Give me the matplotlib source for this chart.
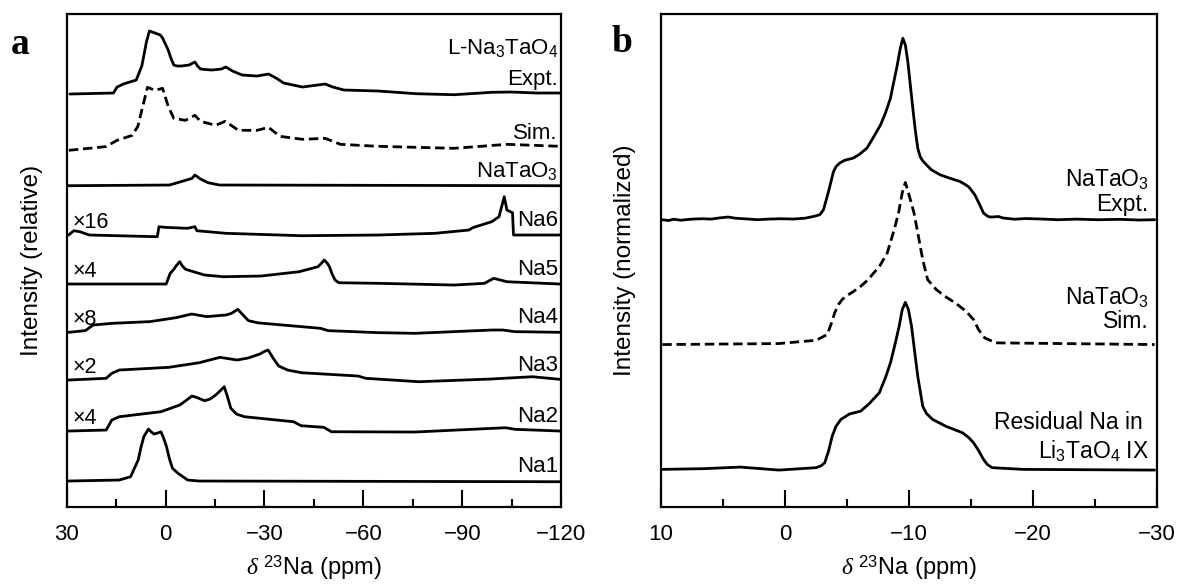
import matplotlib.pyplot as plt
from matplotlib.ticker import MultipleLocator

plt.rcParams['font.family'] = ['Liberation Sans', 'DejaVu Sans']
plt.rcParams['mathtext.fontset'] = 'custom'
plt.rcParams['mathtext.rm'] = 'Liberation Sans'
plt.rcParams['mathtext.it'] = 'Liberation Serif:italic'
plt.rcParams['font.size'] = 16

# ---- panel a: simulated Na sites of L-Na3TaO4 (ppm, intensity) ----
expt_ppm = [29, 15.8, 14.7, 12.8, 8.9, 7.2, 6.5, 5.8, 4.9, 3.2, 1.6, 0.9, -0.8, -1.6, -2.5,
            -3.5, -4.8, -7.1, -8.9, -9.7, -10.6, -12.0, -14.1, -16.9, -18.3, -20.3, -23.2,
            -27.8, -31.2, -33.5, -35.8, -41.5, -46.1, -48.4, -50.7, -54.1, -64.5, -76,
            -87.5, -98.9, -104.7, -112.7, -119.6]
expt_int = [0, 1, 7, 10, 14, 28, 40, 52, 63, 61, 59, 56, 44, 36, 29,
            28, 28, 29, 32, 28, 25, 24.5, 24, 25, 27, 23, 19,
            18, 20, 16, 11, 7, 9, 10, 7, 4, 3, 0.3,
            -0.7, 1.7, 2, 1, 1]

sim_ppm = [29.3, 18.1, 14.7, 10.1, 8.4, 5.5, 3.2, 0.9, -0.8, -2.5, -6.0, -8.9, -10.6,
           -15.2, -18.1, -22.1, -27.8, -31.2, -34.7, -41.5, -48.4, -53, -64.5, -87.5,
           -103.5, -119.6]
sim_int = [-2, 1.7, 8, 13, 22, 61, 58, 60, 42, 30, 28, 33, 27,
           23, 27, 18, 18, 21, 12, 9, 10, 4, 2, 0,
           4, 2]

natao3_ppm = [29.5, -1.2, -4.6, -8.0, -8.9, -10.6, -12.9, -16.3, -119.6]
natao3_int = [0, 0.7, 4, 7.3, 10.7, 6.7, 3, 0.7, 0]

na6_ppm = [29.4, 27.8, 26, 23.1, 2.5, 2.0, 0.3, -6.6, -8.9, -9.5, -18.3, -41.3, -64.5,
           -81.7, -92, -93.1, -98.9, -101.1, -102.7, -103.5, -105.2, -105.5, -119.6]
na6_int = [0, 4.3, 3.3, 0, -1.7, 8.3, 7.7, 6.7, 8.3, 4.3, 1.7, -0.7, 0,
           1.7, 5, 7.3, 13.3, 18.3, 38.3, 25, 22.3, 0, 0]

na5_ppm = [29.4, -0.2, -1.4, -2.5, -3.3, -4.3, -5.1, -6.1, -11.8, -17.6, -29, -40.5,
           -46.2, -47.2, -48.1, -49.0, -49.7, -50.5, -51.4, -52.5, -64.5, -87.5, -96.7,
           -99.5, -103.5, -119.6]
na5_int = [0, 0, 10.7, 14.7, 18.5, 22.3, 18, 14.7, 9, 7.3, 8, 12.3,
           17.3, 20.5, 24, 21, 17.3, 10, 4, 1.3, 0.7, -1, 0.7,
           5.7, 2.3, 0]

na4_ppm = [29.4, 24.3, 22, 16.2, 4.7, -3.3, -7.9, -12.5, -18.3, -20, -21.9, -23.3, -25.1,
           -28, -32, -47, -49.3, -64.2, -75.6, -98.9, -102.3, -105.8, -119.6]
na4_int = [0, 1.7, 7.3, 9, 10.7, 14.7, 18.3, 15.7, 17.3, 19, 23, 18, 11.7,
           9.5, 8.3, 4, 1.7, -0.3, -1, 2.3, 2.3, 0.7, 0]

na3_ppm = [29.4, 18, 16.3, 14, -1, -10.2, -16.5, -21.7, -25, -28.6, -29.9, -31.1, -32.6,
           -34.3, -37, -41.2, -58.4, -60.7, -76.8, -98.6, -111.2, -119.6]
na3_int = [0, 1.7, 6.7, 10, 12.7, 17.3, 22.7, 20, 22, 26, 28.5, 30, 22,
           14, 10, 7.3, 4, 1.7, -1.7, 1, 3.3, 0.7]

na2_ppm = [29.4, 18, 16.3, 14, 1.4, -4.3, -6, -8.0, -9.5, -11.8, -13.5, -15.2, -16.5,
           -17.8, -18.8, -19.8, -21.5, -23.9, -38.8, -41.1, -48, -50.3, -75.6, -103.1,
           -106, -119.6]
na2_int = [0, 1, 11, 14.3, 19.3, 26, 30, 35, 33.5, 30.3, 32, 36, 40,
           44.3, 34, 22.7, 17, 14.3, 9.3, 5.3, 3.7, -0.7, -1, 3.3,
           1.7, 0]

na1_ppm = [29.4, 14, 10.6, 8.3, 7.5, 6.6, 5.2, 4.3, 3.5, 2.4, 1.4, 0.6, -0.3, -1.2, -2.1,
           -3.8, -6.7, -10.2, -119.6]
na1_int = [0, 1, 4.3, 21, 33, 44.3, 52, 49, 47, 48, 49.3, 43, 34.3, 22, 12.7,
           7.7, 1, 0, -0.7]

a_traces = [
    (expt_ppm, expt_int, '-'),
    (sim_ppm, sim_int, '--'),
    (natao3_ppm, natao3_int, '-'),
    (na6_ppm, na6_int, '-'),
    (na5_ppm, na5_int, '-'),
    (na4_ppm, na4_int, '-'),
    (na3_ppm, na3_int, '-'),
    (na2_ppm, na2_int, '-'),
    (na1_ppm, na1_int, '-'),
]
a_offsets = [413, 358.7, 321.3, 272, 223, 174.7, 127, 76, 26]
a_names = ['Expt.', 'Sim.', 'NaTaO$_3$', 'Na6', 'Na5', 'Na4', 'Na3', 'Na2', 'Na1']
a_scales = ['', '', '', '\u00d716', '\u00d74', '\u00d78', '\u00d72', '\u00d74', '']

# ---- panel b: NaTaO3 and residual Na in Li3TaO4 IX ----
b_expt_ppm = [9.9, 9.4, 9.0, 8.4, 7.8, 7.2, 6.6, 6.0, 5.3, 4.6, 4.0, 3.0, 2.2, 1.4, 0.4,
              -0.7, -1.6, -2.3, -2.8, -3.1, -3.5, -3.9, -4.1, -4.4, -4.8, -5.5, -6.0,
              -6.6, -7.1, -7.7, -8.1, -8.5, -8.75, -9.0, -9.3, -9.5, -9.7, -9.9, -10.3,
              -10.5, -10.7, -10.9, -11.1, -11.4, -11.8, -12.5, -13.3, -14.1, -14.5,
              -14.8, -15.0, -15.3, -15.7, -16.0, -16.4, -16.7, -17.2, -17.6, -18.5,
              -19.4, -20.7, -22.0, -23.5, -25.2, -27.0, -28.5, -29.8]
b_expt_int = [0, -0.8, 0.5, -0.5, 0.3, 0.8, 1, 0.6, 1.8, 2.7, 1.5, 0.7, 0, 0.6, 1.0,
              0.7, 1.5, 3.3, 5, 10, 28, 48, 53, 56.7, 59.5, 61.7, 65.5,
              71.7, 82, 95, 107, 121.7, 137, 151.7, 172, 181.7, 175, 158.3, 111.7,
              90, 71.7, 63, 59, 55, 50, 45, 41.5, 38.3, 35.5,
              33, 30, 25, 15, 6.7, 3, 2.7, 3.2, 1.7, 0.5,
              1.2, 0.7, 0, 0.6, 0, 0.4, -0.3, 0]

b_sim_ppm = [9.9, 0.5, -2.5, -3.4, -3.7, -4.0, -4.3, -4.6, -4.9, -5.5, -6.1, -6.7, -7.1,
             -7.6, -8.24, -8.8, -9.15, -9.45, -9.7, -9.95, -10.4, -10.7, -11.0, -11.2,
             -11.5, -12.2, -12.9, -13.8, -14.6, -15.2, -15.6, -16.1, -17.0, -29.8]
b_sim_int = [0, 1, 4.3, 10, 20, 31.7, 40, 45, 48.3, 53, 58.3, 65, 71,
             78, 91.7, 115, 131.7, 152, 162.3, 152, 131.7, 112, 91.7, 80,
             65, 55, 48.3, 41, 33.3, 25, 15, 6.7, 1.7, 0]

b_res_ppm = [9.9, 6.6, 3.6, 0.5, -2.5, -2.9, -3.2, -3.5, -3.8, -4.1, -4.5, -5.2, -6.1,
             -6.8, -7.6, -8.1, -8.5, -8.9, -9.2, -9.45, -9.7, -9.95, -10.2, -10.45,
             -10.7, -11.1, -11.4, -11.9, -13.0, -14.3, -14.8, -15.2, -15.6, -16.0,
             -16.3, -16.7, -19.2, -29.8]
b_res_int = [0, 0.7, 2.3, -0.7, 1.7, 3.5, 6.7, 18, 33.3, 43, 50, 55.5, 58.3,
             66, 76.7, 92, 106.7, 127, 143.3, 160, 167.3, 160, 143.3, 118,
             93.3, 63.3, 56, 50, 43, 36.7, 32, 26.7, 19, 10,
             5, 1.7, 0, -0.7]

b_traces = [
    (b_expt_ppm, b_expt_int, '-'),
    (b_sim_ppm, b_sim_int, '--'),
    (b_res_ppm, b_res_int, '-'),
]
b_offsets = [287.7, 162.7, 37.7]

LW = 2.0
DASH = (3.4, 1.7)


def style_axes(ax, xlim, major, minor):
    ax.set_xlim(*xlim)
    ax.xaxis.set_major_locator(MultipleLocator(major))
    ax.xaxis.set_minor_locator(MultipleLocator(minor))
    ax.set_yticks([])
    for sp in ax.spines.values():
        sp.set_linewidth(1.6)
    ax.tick_params(axis='x', which='major', direction='in', length=12, width=1.5,
                   pad=12, labelsize=16)
    ax.tick_params(axis='x', which='minor', direction='in', length=6, width=1.5)
    ax.set_xlabel(r'$\delta$ $^{23}$Na (ppm)', fontsize=17, labelpad=6)


def draw(ax, traces, offsets):
    for (x, y, ls), off in zip(traces, offsets):
        line, = ax.plot(x, [v + off for v in y], color='black', lw=LW,
                        solid_joinstyle='round', solid_capstyle='round')
        if ls == '--':
            line.set_dashes(DASH)


fig = plt.figure(figsize=(11.79, 5.84), dpi=100)
ax_a = fig.add_axes([0.0565, 0.1318, 0.4196, 0.8442])
ax_b = fig.add_axes([0.5607, 0.1318, 0.4207, 0.8442])

draw(ax_a, a_traces, a_offsets)
ax_a.set_ylim(0, 493)
style_axes(ax_a, (30, -120), 30, 15)
ax_a.set_ylabel('Intensity (relative)', fontsize=17.5, labelpad=17)

lab = ('axes fraction', 'data')
ax_a.annotate('L-Na$_3$TaO$_4$', (0.993, 459), xycoords=lab, ha='right', va='center')
for name, scale, off in zip(a_names, a_scales, a_offsets):
    ax_a.annotate(name, (0.993, off + 15), xycoords=lab, ha='right', va='center')
    if scale:
        ax_a.annotate(scale, (0.011, off + 13), xycoords=lab, ha='left', va='center',
                      fontsize=15.5)

draw(ax_b, b_traces, b_offsets)
ax_b.set_ylim(0, 493.7)
style_axes(ax_b, (10, -30), 10, 5)
ax_b.set_ylabel('Intensity (normalized)', fontsize=17.5, labelpad=18)

b_labels = [('NaTaO$_3$', 0.983, 327.7), ('Expt.', 0.983, 302.7),
            ('NaTaO$_3$', 0.983, 209.7), ('Sim.', 0.983, 185.7),
            ('Residual Na in', 0.971, 84.7), ('Li$_3$TaO$_4$ IX', 0.983, 55.7)]
for text, xpos, ypos in b_labels:
    ax_b.annotate(text, (xpos, ypos), xycoords=lab, ha='right', va='center',
                  fontsize=16.5)

fig.text(0.009, 0.923, 'a', fontsize=27, fontweight='bold', family='Liberation Serif',
         va='center')
fig.text(0.519, 0.928, 'b', fontsize=27, fontweight='bold', family='Liberation Serif',
         va='center')

fig.savefig('out.png', dpi=100)
